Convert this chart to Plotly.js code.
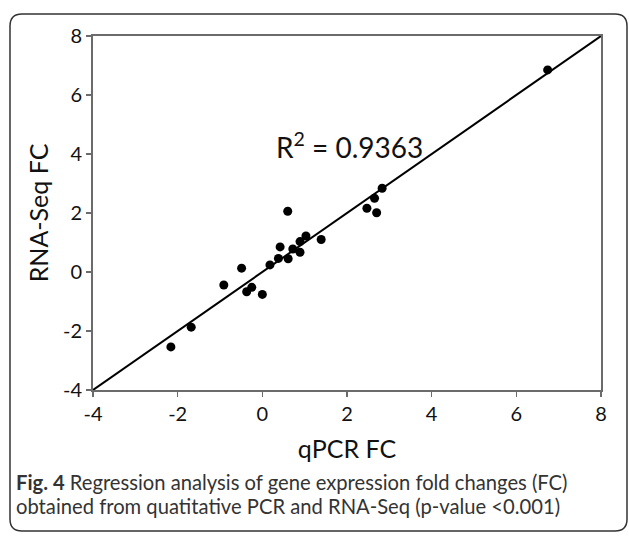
<!DOCTYPE html>
<html>
<head>
<meta charset="utf-8">
<script src="https://cdn.plot.ly/plotly-3.0.1.min.js"></script>
<style>html,body{margin:0;padding:0;background:#fff;}#chart{width:629px;height:538px;}</style>
</head>
<body>
<div id="chart"></div>
<script>
// qPCR fold change (x) vs RNA-Seq fold change (y)
const qpcrFC = [6.74, 2.83, 2.65, 2.47, 2.70, 1.39, 1.03, 0.89, 0.89, 0.72, 0.61, 0.42, 0.38, 0.18, 0.00, -0.25, -0.37, -0.49, -0.91, 0.60, -1.68, -2.16];
const rnaSeqFC = [6.85, 2.84, 2.50, 2.16, 2.01, 1.10, 1.22, 1.03, 0.67, 0.78, 0.45, 0.85, 0.46, 0.24, -0.76, -0.52, -0.67, 0.13, -0.44, 2.06, -1.87, -2.54];
// regression line end points
const fitX = [-4, 8];
const fitY = [-4, 8];
const tickVals = [-4, -2, 0, 2, 4, 6, 8];
const tickText = ['-4', '-2', '0', '2', '4', '6', '8'];
const r2Text = 'R<sup>2</sup> = 0.9363';
const captionBold = 'Fig. 4';
const captionLine1 = ' Regression analysis of gene expression fold changes (FC)';
const captionLine2 = 'obtained from quatitative PCR and RNA-Seq (p-value &lt;0.001)';

const W = 629, H = 538;
const mL = 93, mR = 28, mT = 36, mB = 148;
const pw = W - mL - mR, ph = H - mT - mB;
const px = v => (v - mL) / pw;
const py = v => (H - mB - v) / ph;

// rounded frame around figure
const bx0 = 10, bx1 = 627, by0 = 14, by1 = 531, rad = 12;
function P(x, y) { return px(x).toFixed(5) + ',' + py(y).toFixed(5); }
const framePath = 'M' + P(bx0 + rad, by0) + ' L' + P(bx1 - rad, by0) +
  ' Q' + P(bx1, by0) + ' ' + P(bx1, by0 + rad) +
  ' L' + P(bx1, by1 - rad) + ' Q' + P(bx1, by1) + ' ' + P(bx1 - rad, by1) +
  ' L' + P(bx0 + rad, by1) + ' Q' + P(bx0, by1) + ' ' + P(bx0, by1 - rad) +
  ' L' + P(bx0, by0 + rad) + ' Q' + P(bx0, by0) + ' ' + P(bx0 + rad, by0) + ' Z';

const font = 'Lato, "Open Sans", sans-serif';

const traces = [
  {x: fitX, y: fitY, mode: 'lines', line: {color: '#000', width: 2}, hoverinfo: 'skip', showlegend: false},
  {x: qpcrFC, y: rnaSeqFC, mode: 'markers', marker: {color: '#000', size: 9}, showlegend: false}
];

const axisCommon = {
  range: [-4, 8], tickvals: tickVals, ticktext: tickText,
  showgrid: false, zeroline: false, showline: true, mirror: true,
  linecolor: '#6b6b6b', linewidth: 2, ticks: 'outside', ticklen: 5, tickwidth: 1.5, tickcolor: '#6b6b6b',
  tickfont: {family: font, size: 20, color: '#111'}, fixedrange: true
};

const layout = {
  width: W, height: H,
  margin: {l: mL, r: mR, t: mT, b: mB},
  paper_bgcolor: '#fff', plot_bgcolor: '#fff',
  xaxis: Object.assign({}, axisCommon, {
    title: {text: 'qPCR FC', font: {family: font, size: 25, color: '#111'}, standoff: 16}
  }),
  yaxis: Object.assign({}, axisCommon, {
    title: {text: 'RNA-Seq FC', font: {family: font, size: 25, color: '#111'}, standoff: 7}
  }),
  shapes: [{type: 'path', xref: 'paper', yref: 'paper', path: framePath, line: {color: '#333', width: 1.5}}],
  annotations: [
    {text: r2Text, x: 2.05, y: 4.3, xref: 'x', yref: 'y', xanchor: 'center', yanchor: 'middle', showarrow: false,
     font: {family: font, size: 28, color: '#111'}},
    {text: '<b>' + captionBold + '</b>' + captionLine1, x: px(14), y: py(482), xref: 'paper', yref: 'paper',
     xanchor: 'left', yanchor: 'middle', showarrow: false, font: {family: font, size: 20.2, color: '#333'}},
    {text: captionLine2, x: px(14), y: py(506), xref: 'paper', yref: 'paper',
     xanchor: 'left', yanchor: 'middle', showarrow: false, font: {family: font, size: 20.2, color: '#333'}}
  ]
};

Plotly.newPlot('chart', traces, layout, {displayModeBar: false, staticPlot: true});
</script>
</body>
</html>
